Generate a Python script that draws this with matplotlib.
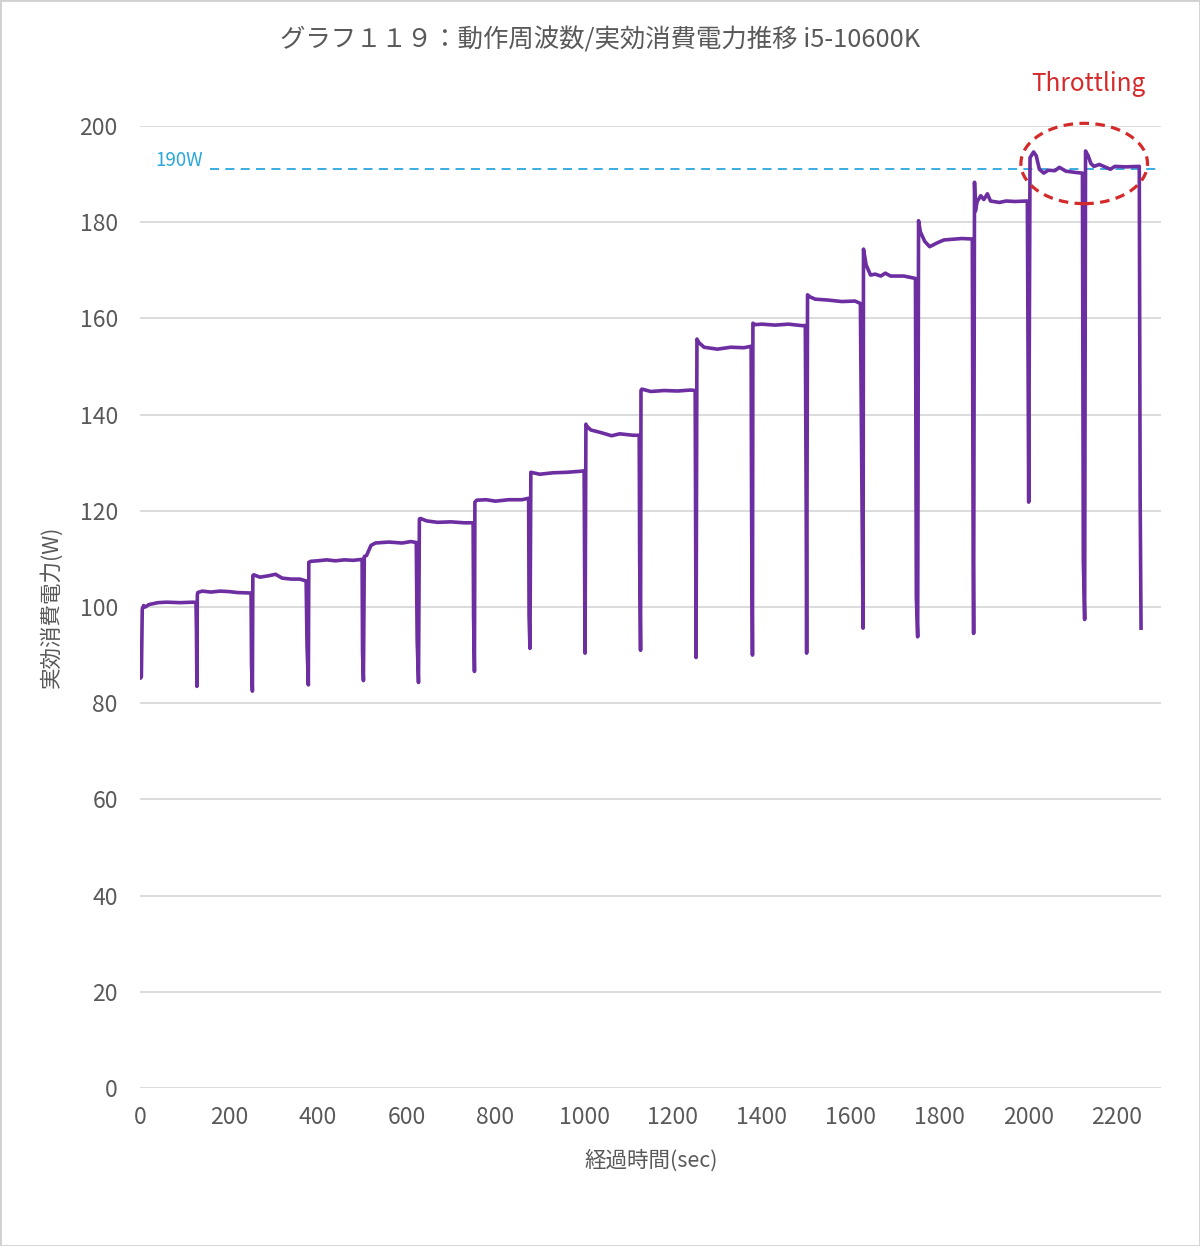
import matplotlib.pyplot as plt
from matplotlib.patches import Ellipse, Rectangle

plt.rcParams['font.family'] = ['Noto Sans CJK JP', 'DejaVu Sans']

# 経過時間(sec) / 実効消費電力(W), step by step
time_sec = [
    0, 1, 3, 4, 5, 8, 12, 20, 40, 60, 90, 120, 126, 127, 128,                 # step 1
    129, 130, 140, 160, 180, 200, 220, 245, 250, 251, 253,                    # step 2
    254, 256, 270, 290, 305, 320, 340, 360, 374, 376, 379,                    # step 3
    380, 385, 400, 420, 440, 460, 480, 500, 501, 503,                         # step 4
    505, 510, 520, 530, 560, 590, 610, 622, 624, 627,                         # step 5
    629, 632, 645, 670, 700, 730, 750, 751, 753,                              # step 6
    754, 758, 780, 800, 830, 860, 875, 876, 878,                              # step 7
    880, 885, 900, 930, 960, 990, 1000, 1001, 1002,                           # step 8
    1004, 1006, 1015, 1036, 1062, 1080, 1110, 1124, 1125, 1127,               # step 9
    1128, 1130, 1150, 1180, 1210, 1240, 1250, 1251, 1252,                     # step 10
    1254, 1258, 1270, 1300, 1330, 1360, 1376, 1377, 1379,                     # step 11
    1380, 1385, 1400, 1430, 1460, 1490, 1498, 1500, 1501,                     # step 12
    1503, 1508, 1520, 1550, 1580, 1610, 1622, 1624, 1628,                     # step 13
    1629, 1635, 1645, 1655, 1668, 1678, 1690, 1720, 1746, 1748, 1751,         # step 14
    1753, 1757, 1767, 1778, 1795, 1810, 1850, 1874, 1876, 1877,               # step 15
    1879, 1881, 1885, 1893, 1900, 1908, 1915, 1935, 1950, 1970, 1998, 2001,   # step 16
    2004, 2012, 2018, 2025, 2035, 2045, 2060, 2070, 2085, 2110, 2122, 2124, 2127,  # step 17
    2129, 2135, 2141, 2148, 2160, 2175, 2185, 2195, 2220, 2250, 2252, 2254,   # step 18
]
power_w = [
    86.5, 85.2, 85.5, 92, 99.5, 100.3, 100.0, 100.5, 100.9, 101.0, 100.9, 101.0, 100.9, 95, 83.5,
    102.5, 103.0, 103.3, 103.1, 103.3, 103.2, 103.0, 102.9, 102.9, 88, 82.5,
    106.5, 106.7, 106.2, 106.5, 106.8, 106.0, 105.8, 105.8, 105.4, 92, 83.8,
    109.3, 109.5, 109.6, 109.8, 109.6, 109.8, 109.7, 109.9, 90.5, 84.7,
    110.5, 110.7, 112.8, 113.3, 113.5, 113.3, 113.6, 113.4, 93, 84.3,
    118.3, 118.4, 117.9, 117.6, 117.7, 117.5, 117.5, 98, 86.6,
    121.8, 122.2, 122.3, 122.0, 122.3, 122.3, 122.6, 98, 91.4,
    128.0, 127.9, 127.6, 127.9, 128.0, 128.2, 128.3, 110, 90.4,
    138.0, 137.6, 136.8, 136.3, 135.6, 136.0, 135.7, 135.7, 110, 91,
    145.0, 145.3, 144.8, 145.0, 144.9, 145.1, 145.0, 115, 89.5,
    155.7, 155.0, 154.0, 153.6, 154.0, 153.9, 154.2, 120, 90,
    159.0, 158.7, 158.8, 158.6, 158.8, 158.5, 158.5, 120, 90.4,
    164.9, 164.5, 164.0, 163.8, 163.5, 163.6, 163.1, 140, 95.6,
    174.4, 171.1, 169.0, 169.2, 168.8, 169.4, 168.8, 168.8, 168.3, 102, 93.8,
    180.3, 178.0, 176.0, 174.9, 175.7, 176.3, 176.6, 176.5, 110, 94.5,
    188.3, 182.3, 184.3, 185.5, 184.7, 185.9, 184.4, 184.1, 184.4, 184.3, 184.4, 121.8,
    193.4, 194.6, 193.8, 191.0, 190.2, 190.8, 190.7, 191.4, 190.6, 190.3, 190.2, 109.7, 97.4,
    194.8, 193.8, 192.2, 191.6, 192.0, 191.4, 191.0, 191.6, 191.5, 191.6, 122.4, 95.6,
]

x_ticks = list(range(0, 2201, 200))
y_ticks = list(range(0, 201, 20))
limit_w = 191          # 190W line as drawn
limit_start = 158      # dashed line starts here (sec)

fig = plt.figure(figsize=(12, 12.46), dpi=100)
fig.patches.append(Rectangle((0, 0), 1, 1, transform=fig.transFigure,
                             fill=False, ec='#d0d0d0', lw=2))
ax = fig.add_axes([0.1167, 0.1268, 0.8512, 0.7721])

ax.plot(time_sec, power_w, color='#6c2ea0', lw=2.6, solid_joinstyle='round', zorder=3)

ax.hlines(limit_w, limit_start, 2300, colors='#2aa7dd', linestyles=(0, (5, 3.5)), lw=1.3, zorder=2)
ax.text(88, limit_w + 1.8, '190W', color='#2aa7dd', fontsize=13.5, ha='center', va='center')

ell = Ellipse((2126, 192.2), 285, 16.7, fill=False, ec='#d42a2a', lw=2.3,
              linestyle=(0, (3, 2)), clip_on=False, zorder=4)
ax.add_patch(ell)
ax.text(2136, 208.7, 'Throttling', color='#d42a2a', fontsize=17.5,
        ha='center', va='center', clip_on=False)

ax.set_xlim(0, 2300)
ax.set_ylim(0, 200)
ax.set_xticks(x_ticks)
ax.set_yticks(y_ticks)
ax.grid(axis='y', color='#d9d9d9', lw=1.3)
ax.set_axisbelow(True)
for s in ax.spines.values():
    s.set_visible(False)
ax.tick_params(length=0, labelsize=16.5, labelcolor='#595959')
ax.tick_params(axis='y', pad=16)
ax.tick_params(axis='x', pad=13)

ax.set_xlabel('経過時間(sec)', fontsize=15.5, color='#595959', labelpad=15)
ax.set_ylabel('実効消費電力(W)', fontsize=15.5, color='#595959', labelpad=12)
fig.text(0.5, 0.968, 'グラフ１１９：動作周波数/実効消費電力推移 i5-10600K',
         fontsize=18.3, color='#595959', ha='center', va='center')

fig.savefig('out.png', dpi=100, facecolor='white')
